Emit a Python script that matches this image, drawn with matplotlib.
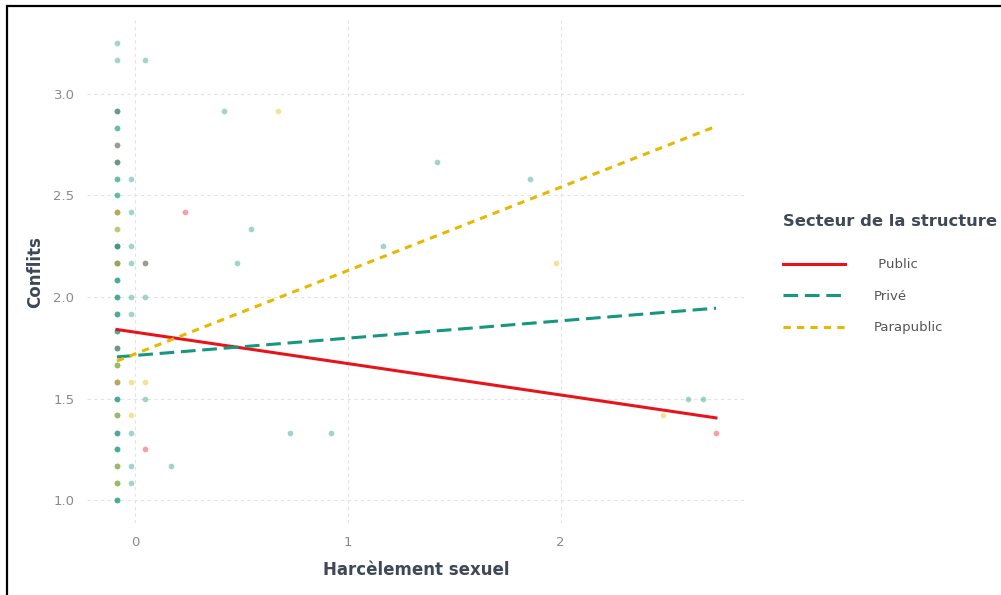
import numpy as np
import matplotlib
matplotlib.use('Agg')
import matplotlib.pyplot as plt
from matplotlib.patches import Rectangle

# categories / colours
secteurs = ['Public', 'Privé', 'Parapublic']
couleurs = {'Public': '#E8141C', 'Privé': '#16977F', 'Parapublic': '#E7B800'}
styles = {'Public': '-', 'Privé': (0, (4.8, 2.2)), 'Parapublic': (0, (2.4, 2.0))}

# points (harcelement, conflits) per sector
pub_x = [-0.085, -0.085, -0.085, -0.085, -0.085, -0.085, -0.085, -0.085,
         0.235, 0.047, 0.047, 2.73]
pub_y = [2.917, 2.75, 2.667, 2.417, 2.25, 2.167, 1.75, 1.583,
         2.417, 2.167, 1.25, 1.333]

# many answers at zero harassment: (conflits value, count) for the left column
priv_zero_y = [1.0, 1.083, 1.167, 1.25, 1.333, 1.417, 1.5, 1.583, 1.667, 1.75, 1.833, 1.917,
               2.0, 2.083, 2.167, 2.25, 2.333, 2.417, 2.5, 2.583, 2.667, 2.75, 2.833, 2.917,
               3.167, 3.25]
priv_zero_n = [3, 2, 2, 3, 3, 2, 3, 1, 2, 2, 3, 3,
               3, 3, 2, 3, 1, 1, 2, 2, 2, 1, 2, 2,
               1, 1]

priv_x = [-0.02] * 9 + [0.047, 0.047, 0.047, 0.047] + \
         [0.42, 0.545, 0.48, 0.17, 0.73, 0.92, 1.42, 1.855, 1.165, 2.6, 2.67]
priv_y = [2.583, 2.417, 2.25, 2.167, 2.0, 1.917, 1.333, 1.167, 1.083] + \
         [3.167, 2.167, 2.0, 1.5] + \
         [2.917, 2.333, 2.167, 1.167, 1.333, 1.333, 2.667, 2.583, 2.25, 1.5, 1.5]
priv_x = [-0.085] * sum(priv_zero_n) + priv_x
priv_y = list(np.repeat(priv_zero_y, priv_zero_n)) + priv_y

para_x = [-0.085, -0.085, -0.085, -0.085, -0.085, -0.085, -0.085, -0.085,
          -0.02, -0.02, 0.047, 0.67, 1.98, 2.48]
para_y = [2.417, 2.333, 2.167, 1.667, 1.583, 1.417, 1.167, 1.083,
          1.583, 1.417, 1.583, 2.917, 2.167, 1.417]

points = {'Public': (pub_x, pub_y), 'Privé': (priv_x, priv_y), 'Parapublic': (para_x, para_y)}

# fitted lines (end points)
fit_x = [-0.085, 2.73]
fit_y = {'Public': [1.84, 1.405], 'Privé': [1.705, 1.945], 'Parapublic': [1.685, 2.84]}

fig = plt.figure(figsize=(10.01, 5.95), dpi=100)
ax = fig.add_axes([0.0869, 0.121, 0.6581, 0.845])

for s in secteurs:
    px, py = points[s]
    ax.scatter(px, py, s=17, color=couleurs[s], alpha=0.4, linewidths=0, zorder=2)
for s in secteurs:
    ax.plot(fit_x, fit_y[s], color=couleurs[s], linestyle=styles[s], linewidth=2.2,
            label=s if s != 'Public' else ' Public', zorder=3)

ax.set_xlim(-0.226, 2.87)
ax.set_ylim(0.8875, 3.3625)
ax.set_xticks([0, 1, 2])
ax.set_yticks([1.0, 1.5, 2.0, 2.5, 3.0])
ax.set_yticklabels(['1.0', '1.5', '2.0', '2.5', '3.0'])
ax.grid(True, color='#e3e3e3', linestyle=(0, (3, 3)), linewidth=0.8)
ax.set_axisbelow(True)
for sp in ax.spines.values():
    sp.set_visible(False)
ax.tick_params(length=0, pad=9, labelsize=9.5, labelcolor='#8a8a8a')

ax.set_xlabel('Harcèlement sexuel', fontsize=12, fontweight='bold', color='#3e4856', labelpad=9)
ax.set_ylabel('Conflits', fontsize=12, fontweight='bold', color='#3e4856', labelpad=7)

leg = ax.legend(loc='upper left', bbox_to_anchor=(0.770, 0.660), bbox_transform=fig.transFigure,
                frameon=False, fontsize=9.5, handlelength=4.7, handletextpad=2.2, labelspacing=1.4,
                title='Secteur de la structure',
                title_fontproperties={'weight': 'bold', 'size': 11.8}, alignment='left')
leg._legend_box.sep = 21
for t in leg.get_texts():
    t.set_color('#555555')
leg.get_title().set_color('#3e4856')

# black frame of the screenshot (top and left edges visible)
fig.patches.append(Rectangle((7 / 1001, -0.1), 1.2, 1.1 - 6 / 595,
                             transform=fig.transFigure, fill=False, edgecolor='black',
                             linewidth=1.6))

fig.savefig('out.png', dpi=100)
